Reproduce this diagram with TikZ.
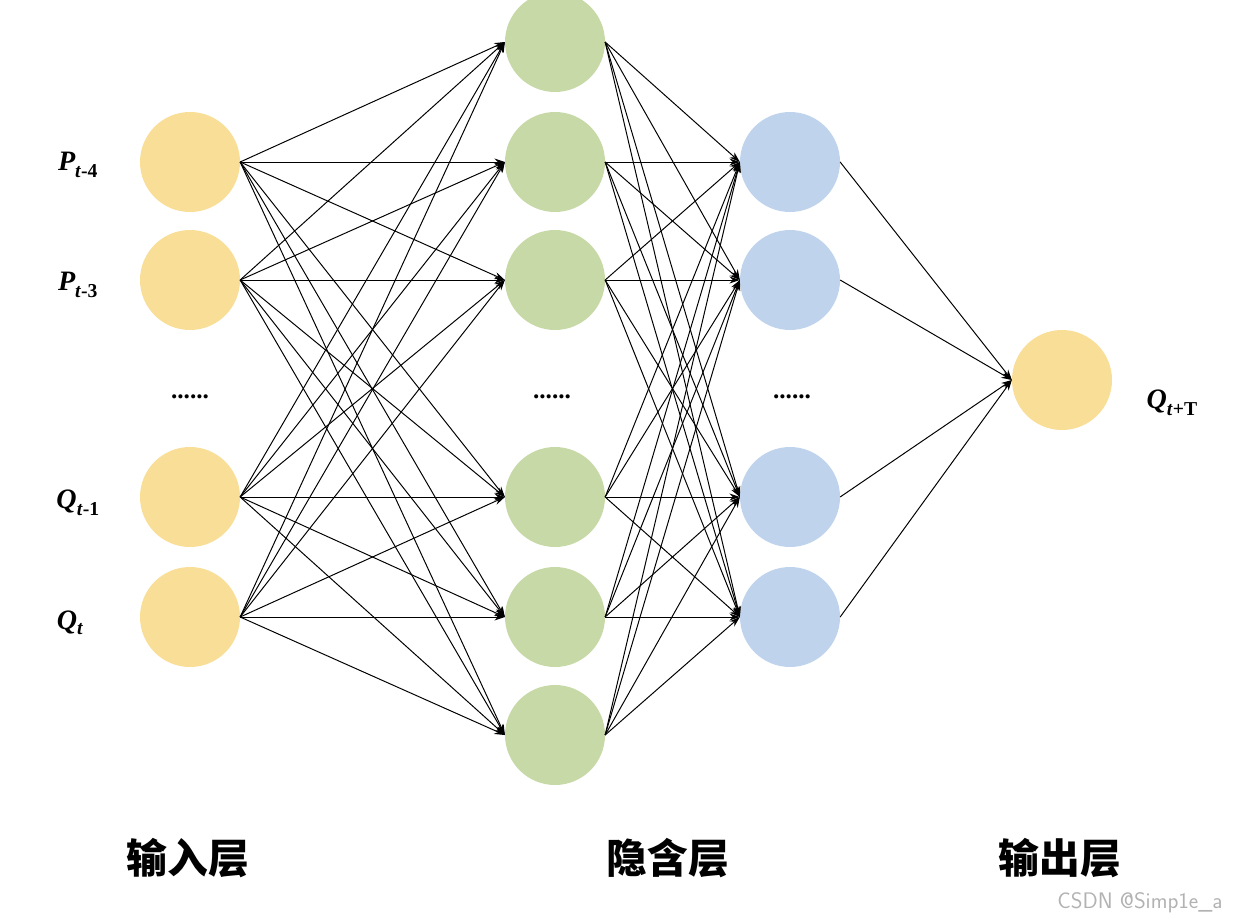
\documentclass[tikz,border=0pt]{standalone}
\usepackage{fontspec}
\setmainfont{Liberation Serif}
\newfontfamily\cjk{Noto Sans CJK SC}
\usetikzlibrary{arrows.meta,positioning}
\definecolor{nyellow}{HTML}{F9DE98}
\definecolor{ngreen}{HTML}{C6D9A6}
\definecolor{nblue}{HTML}{BFD4EC}
\begin{document}
\begin{tikzpicture}[x=0.05cm,y=-0.05cm,
	neuron/.style = {circle, minimum size=5cm, inner sep=0pt},
	inp/.style    = {neuron, fill=nyellow},
	hid/.style    = {neuron, fill=ngreen},
	hidb/.style   = {neuron, fill=nblue},
	varlab/.style = {font=\fontsize{40}{44}\selectfont\bfseries\itshape},
	layerlab/.style = {font=\fontsize{58}{62}\selectfont\cjk\bfseries},
	dots/.style   = {font=\fontsize{36}{40}\selectfont\bfseries},
	>={Stealth[length=15pt,width=10pt]}]
	\useasboundingbox (0,0) rectangle (1242,923);

	% input layer
	\foreach \i/\y in {1/162,2/280,3/497,4/617}
		\node[inp] (in\i) at (190,\y) {};
	% first hidden layer
	\foreach \i/\y in {1/42,2/162,3/280,4/497,5/617,6/735}
		\node[hid] (ha\i) at (555,\y) {};
	% second hidden layer
	\foreach \i/\y in {1/162,2/280,3/497,4/617}
		\node[hidb] (hb\i) at (790,\y) {};
	% output layer
	\node[inp] (out) at (1062,380) {};

	% dots
	\node[dots] (d1) at (190,397) {......};
	\node[dots] (d2) at (552,397) {......};
	\node[dots] (d3) at (792,397) {......};

	% variable labels
	\node[varlab] (l1) at (78,165) {P\textsubscript{t\textup{-4}}};
	\node[varlab] (l2) at (78,285) {P\textsubscript{t\textup{-3}}};
	\node[varlab] (l3) at (78,503) {Q\textsubscript{t\textup{-1}}};
	\node[varlab] (l4) at (70,623) {Q\textsubscript{t}};
	\node[varlab] (l5) at (1172,403) {Q\textsubscript{t\textup{+T}}};

	% layer labels
	\node[layerlab] (t1) at (188,858) {输入层};
	\node[layerlab] (t2) at (668,858) {隐含层};
	\node[layerlab] (t3) at (1060,858) {输出层};
	\node[font=\fontsize{32}{34}\selectfont\sffamily, text=gray!60] (wm) at (1140,903) {CSDN @Simp1e\_a};

	% connections
	\foreach \i in {1,...,4}
		\foreach \j in {1,...,6}
			\draw[->, line width=1.4pt] (in\i.east) -- (ha\j.west);
	\foreach \i in {1,...,6}
		\foreach \j in {1,...,4}
			\draw[->, line width=1.4pt] (ha\i.east) -- (hb\j.west);
	\foreach \i in {1,...,4}
		\draw[->, line width=1.4pt] (hb\i.east) -- (out.west);
\end{tikzpicture}
\end{document}
